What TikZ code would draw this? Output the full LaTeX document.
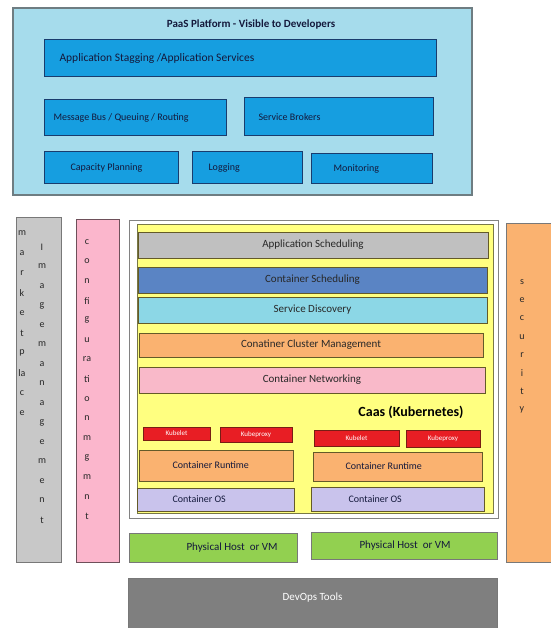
\documentclass[tikz,border=0pt]{standalone}
\usepackage{fontspec}
\setmainfont{Carlito}
\definecolor{paasbg}{RGB}{166,220,236}
\definecolor{paasline}{RGB}{110,125,130}
\definecolor{svcblue}{RGB}{22,158,224}
\definecolor{svcline}{RGB}{25,60,110}
\definecolor{svctext}{RGB}{20,25,60}
\definecolor{caasyellow}{RGB}{255,255,128}
\definecolor{yelline}{RGB}{120,120,70}
\definecolor{framegray}{RGB}{130,130,130}
\definecolor{layline}{RGB}{100,90,40}
\definecolor{laygray}{RGB}{192,192,192}
\definecolor{layblue}{RGB}{90,132,196}
\definecolor{laycyan}{RGB}{140,215,230}
\definecolor{layorange}{RGB}{250,178,112}
\definecolor{laypink}{RGB}{249,185,201}
\definecolor{laylav}{RGB}{201,195,236}
\definecolor{laygreen}{RGB}{146,208,80}
\definecolor{tagred}{RGB}{232,30,36}
\definecolor{tagline}{RGB}{120,30,20}
\definecolor{mktgray}{RGB}{200,200,200}
\definecolor{sidegray}{RGB}{120,120,120}
\definecolor{cfgpink}{RGB}{251,182,204}
\definecolor{cfgline}{RGB}{110,80,90}
\definecolor{devgray}{RGB}{127,127,127}
\definecolor{lettertext}{RGB}{40,40,40}
\begin{document}
\begin{tikzpicture}[x=1pt,y=-1pt,
  bx/.style={draw, anchor=north west, inner sep=0pt, outer sep=0pt,
             font=\fontsize{11}{13}\selectfont, text=lettertext},
  paas/.style={bx, fill=paasbg, draw=paasline, line width=1.2pt},
  svc/.style={bx, fill=svcblue, draw=svcline, line width=1pt, text=svctext},
  lay/.style={bx, draw=layline, line width=0.9pt},
  tag/.style={bx, fill=tagred, draw=tagline, line width=0.8pt, text=white,
              font=\fontsize{7}{8}\selectfont},
  side/.style={bx, line width=1pt},
  ltxt/.style n args={3}{label={[anchor=west, xshift=#1pt,
              font=\fontsize{#3}{13}\selectfont, text=svctext]west:#2}},
  letter/.style={font=\fontsize{10}{11}\selectfont, inner sep=0pt, text=lettertext},
]
\useasboundingbox (0,0) rectangle (550,628);
\fill[white] (0,0) rectangle (550,628);

% PaaS platform block
\node[paas, minimum width=459, minimum height=187] (paas) at (13,8) {};
\node[font=\bfseries\fontsize{11}{13}\selectfont, text=svctext] (paastitle) at (251,25)
  {PaaS Platform - Visible to Developers};
\node[svc, minimum width=392, minimum height=37,
      ltxt={12}{Application Stagging /Application Services}{11.5}] (staging) at (44,40) {};
\node[svc, minimum width=182, minimum height=36,
      ltxt={6}{Message Bus / Queuing / Routing}{10}] (msgbus) at (44,100) {};
\node[svc, minimum width=189, minimum height=38,
      ltxt={11}{Service Brokers}{10}] (brokers) at (244,98) {};
\node[svc, minimum width=134, minimum height=32,
      ltxt={23}{Capacity Planning}{10}] (capacity) at (44,152) {};
\node[svc, minimum width=110, minimum height=32,
      ltxt={13}{Logging}{10}] (logging) at (192,152) {};
\node[svc, minimum width=121, minimum height=30,
      ltxt={19}{Monitoring}{10}] (monitoring) at (311,154) {};

% side columns
\node[side, fill=mktgray, draw=sidegray, minimum width=45, minimum height=345] (market) at (16,217) {};
\node[side, fill=cfgpink, draw=cfgline, minimum width=43, minimum height=343] (config) at (76,219) {};
\node[side, fill=layorange, draw=sidegray, minimum width=50, minimum height=339] (security) at (506,223) {};

\foreach \t [count=\i] in {m,a,r,k,e,t,p,la,c,e}
  \node[letter] (mk\i) at (22,{233+20*(\i-1)}) {\t};
\foreach \t [count=\i] in {I,m,a,g,e,m,a,n,a,g,e,m,e,n,t}
  \node[letter] (im\i) at (42,{247+19.5*(\i-1)}) {\t};
\foreach \t [count=\i] in {c,o,n,fi,g,u,ra,ti,o,n,m,g,m,n,t}
  \node[letter] (cf\i) at (87,{242+19.6*(\i-1)}) {\t};
\foreach \t [count=\i] in {s,e,c,u,r,i,t,y}
  \node[letter] (sc\i) at (522,{282+18.3*(\i-1)}) {\t};

% container stack
\node[bx, fill=white, draw=framegray, line width=1pt, minimum width=369, minimum height=298] (caasframe) at (129,220) {};
\node[bx, fill=caasyellow, draw=yelline, line width=0.6pt, minimum width=356, minimum height=289] (caas) at (137,224) {};

\node[lay, fill=laygray, minimum width=350, minimum height=26] (appsched) at (138,232) {Application Scheduling};
\node[lay, fill=layblue, minimum width=349, minimum height=26] (contsched) at (138,267) {Container Scheduling};
\node[lay, fill=laycyan, minimum width=349, minimum height=26] (discovery) at (138,297) {Service Discovery};
\node[lay, fill=layorange, minimum width=344, minimum height=24] (cluster) at (139,333) {Conatiner Cluster Management};
\node[lay, fill=laypink, minimum width=346, minimum height=26] (networking) at (139,367) {Container Networking};

\node[font=\bfseries\fontsize{14}{16}\selectfont, text=black] (caastitle) at (411,412) {Caas (Kubernetes)};

\node[tag, minimum width=67, minimum height=13] (kubeletl) at (143,427) {Kubelet};
\node[tag, minimum width=72, minimum height=15] (proxyl) at (220,427) {Kubeproxy};
\node[tag, minimum width=85, minimum height=16] (kubeletr) at (314,430) {Kubelet};
\node[tag, minimum width=74, minimum height=17] (proxyr) at (406,430) {Kubeproxy};

\node[lay, fill=layorange, minimum width=154, minimum height=31,
      ltxt={30}{Container Runtime}{10}] (runtimel) at (139,450) {};
\node[lay, fill=layorange, minimum width=169, minimum height=29,
      ltxt={29}{Container Runtime}{10}] (runtimer) at (313,452) {};
\node[lay, fill=laylav, minimum width=157, minimum height=23,
      ltxt={32}{Container OS}{10}] (osl) at (137,488) {};
\node[lay, fill=laylav, minimum width=173, minimum height=24,
      ltxt={34}{Container OS}{10}] (osr) at (311,487) {};

% hosts and tools
\node[lay, fill=laygreen, draw=sidegray, minimum width=168, minimum height=29,
      ltxt={54}{Physical Host\ \ or VM}{11}] (hostl) at (129,533) {};
\node[lay, fill=laygreen, draw=sidegray, minimum width=186, minimum height=27,
      ltxt={45}{Physical Host\ \ or VM}{11}] (hostr) at (311,532) {};
\node[bx, fill=devgray, draw=sidegray, line width=1pt, minimum width=369, minimum height=60,
      label={[anchor=north, yshift=-11pt, text=white, font=\fontsize{11}{13}\selectfont]north:DevOps Tools}] (devops) at (128,578) {};
\end{tikzpicture}
\end{document}
